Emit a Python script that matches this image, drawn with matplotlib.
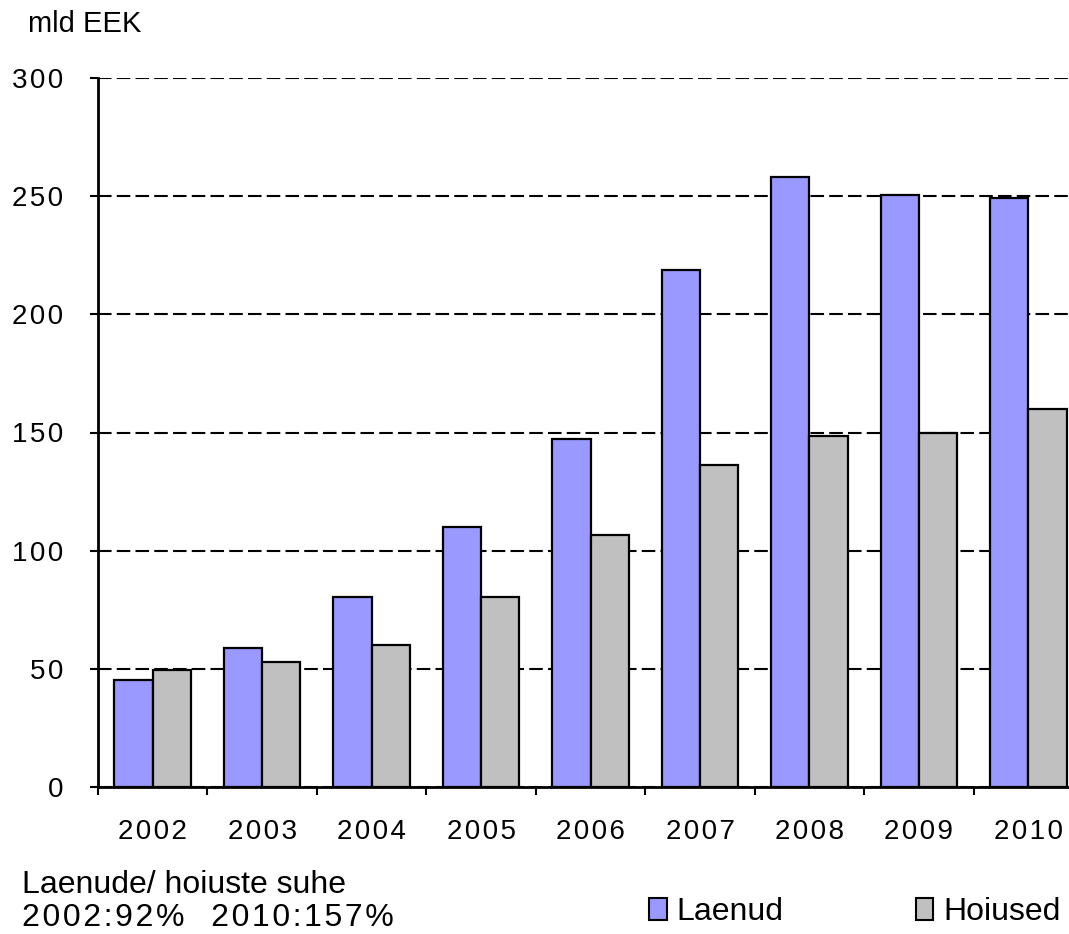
import numpy as np
import matplotlib
matplotlib.use('Agg')
from matplotlib import pyplot as plt
from matplotlib.patches import Patch

years = ['2002', '2003', '2004', '2005', '2006', '2007', '2008', '2009', '2010']
laenud = [45.2, 58.7, 80.5, 110, 147.3, 218.8, 258.3, 250.5, 249.2]
hoiused = [49.7, 53.1, 59.9, 80.4, 106.5, 136.1, 148.4, 149.6, 160.0]
yticks = [0, 50, 100, 150, 200, 250, 300]

W, H = 1069, 934


def px(x, y):
    # pixel position (from top-left) to figure fraction
    return x / W, 1 - y / H


def spaced(s, sp='\u200a'):
    # the original uses wide letter spacing for numbers
    return sp.join(s)


def main():
    plt.rcParams['font.family'] = ['Liberation Sans', 'DejaVu Sans']

    fig = plt.figure(figsize=(W / 100, H / 100), dpi=100)
    ax = fig.add_axes([98 / W, 147 / H, 985 / W, 709 / H])

    x = np.arange(len(years))
    w = 0.35
    ax.bar(x - w / 2, laenud, w, color='#9999ff', edgecolor='black', linewidth=1.6, zorder=3)
    ax.bar(x + w / 2, hoiused, w, color='#c0c0c0', edgecolor='black', linewidth=1.6, zorder=3)

    ax.set_xlim(-0.5, len(years) - 0.5)
    ax.set_ylim(0, 300)

    ax.set_yticks(yticks)
    ax.set_yticklabels([spaced(str(v)) for v in yticks], fontsize=20)
    ax.tick_params(axis='y', length=6, width=1.5, pad=19, direction='out')

    ax.set_xticks(np.arange(-0.5, len(years), 1))
    ax.set_xticklabels([])
    ax.tick_params(axis='x', which='major', length=6, width=1.5, direction='out')
    ax.set_xticks(x, minor=True)
    ax.set_xticklabels([spaced(y) for y in years], minor=True, fontsize=20)
    ax.tick_params(axis='x', which='minor', length=0, pad=23)

    ax.grid(axis='y', color='black', linestyle=(0, (6.5, 2.5)), linewidth=1.5, zorder=1)
    for s in ['top', 'right']:
        ax.spines[s].set_visible(False)
    for s in ['left', 'bottom']:
        ax.spines[s].set_linewidth(2)
        ax.spines[s].set_zorder(4)

    fig.text(*px(28, 24), 'mld EEK', fontsize=21, va='center', ha='left')
    fig.text(*px(22, 885), 'Laenude/ hoiuste suhe', fontsize=23, va='center', ha='left')
    fig.text(*px(22, 918), spaced('2002:92%') + '   ' + spaced('2010:157%'),
             fontsize=23, va='center', ha='left')

    handles = [Patch(facecolor='#9999ff', edgecolor='black', linewidth=1.5, label='Laenud'),
               Patch(facecolor='#c0c0c0', edgecolor='black', linewidth=1.5, label='Hoiused')]
    fig.legend(handles=handles, loc='center left', bbox_to_anchor=px(649, 912), ncol=2,
               frameon=False, fontsize=23, handlelength=0.55, handleheight=0.7,
               handletextpad=0.3, columnspacing=4.15, borderaxespad=0, borderpad=0)

    fig.savefig('out.png', dpi=100)


if __name__ == '__main__':
    main()
